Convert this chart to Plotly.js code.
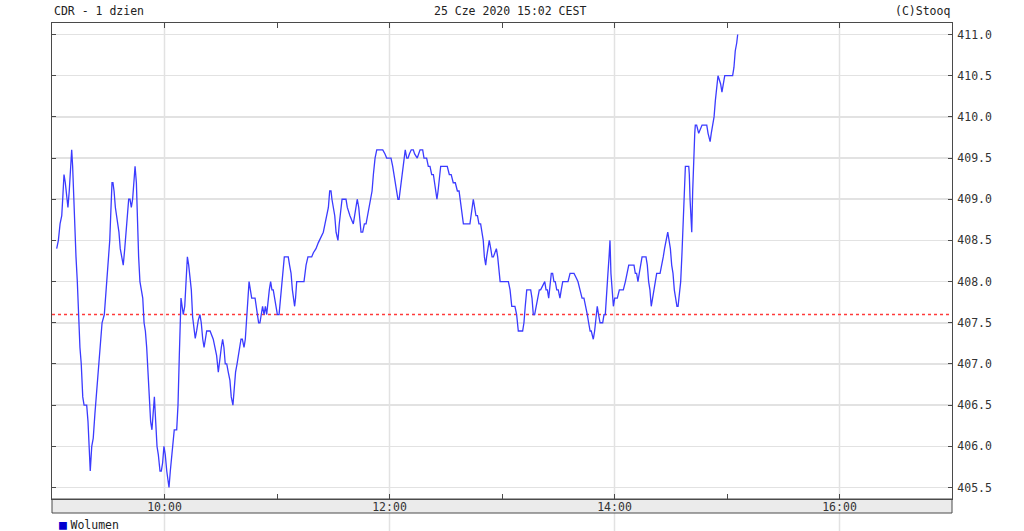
<!DOCTYPE html>
<html>
<head>
<meta charset="utf-8">
<script src="https://cdn.plot.ly/plotly-3.0.1.min.js"></script>
<style>
  html, body { margin: 0; padding: 0; background: #ffffff; }
  #chart { width: 1024px; height: 531px; }
</style>
</head>
<body>
<div id="chart"></div>
<script>
// ---- Data (CDR intraday, 25 Jun 2020) ----
// minutes after 09:00
const minutes = [
  2.5,3.4,4.3,5.2,5.7,6.4,7.1,7.8,8.5,9.2,10.0,10.5,11.0,11.6,12.1,12.8,13.5,14.2,14.9,15.6,
  16.4,17.1,18.5,19.2,19.9,20.4,21.2,22.0,22.9,24.2,25.2,26.0,26.7,27.9,28.6,29.3,30.0,30.8,31.3,32.0,
  32.5,33.1,33.8,34.5,35.0,35.7,36.4,37.2,38.0,38.8,39.5,40.2,40.9,41.6,42.3,43.0,43.7,44.3,45.0,45.5,
  46.2,46.9,47.6,48.4,49.1,49.8,50.5,51.2,51.9,52.6,53.3,54.0,54.6,55.3,56.0,56.7,57.6,58.3,59.0,59.7,
  60.4,61.2,61.9,62.4,63.1,63.8,64.5,65.2,66.5,67.2,67.9,68.4,68.8,70.0,70.8,71.5,72.2,72.9,73.6,74.3,
  75.0,75.7,76.4,77.2,78.0,78.9,79.6,80.4,81.1,81.8,82.5,84.3,86.0,86.9,87.8,88.7,89.6,90.3,91.0,91.7,
  92.4,93.2,94.0,94.9,95.6,96.5,97.2,97.9,98.7,99.4,100.1,100.8,101.5,102.4,103.1,103.8,104.5,105.1,105.8,106.5,
  108.3,108.8,109.5,110.2,110.9,111.6,112.3,113.1,113.8,114.5,115.2,115.9,116.6,117.3,118.0,118.8,119.5,120.2,121.1,121.8,
  122.5,123.2,123.9,124.6,126.0,126.7,127.5,128.2,128.9,129.4,129.9,130.5,134.4,135.5,136.5,138.5,139.4,140.8,142.0,143.3,
  144.7,145.6,146.5,147.4,148.1,148.8,149.3,150.1,150.8,151.5,152.5,153.2,154.0,154.7,156.8,157.5,158.9,160.7,161.4,162.1,
  162.8,163.6,164.3,164.8,165.7,166.6,167.5,168.4,169.2,170.0,170.7,171.4,172.3,173.2,176.4,177.6,178.5,179.9,180.8,181.7,
  182.4,183.1,183.8,184.5,185.1,185.6,186.3,187.0,187.7,188.4,189.2,189.9,190.6,191.6,192.7,193.4,194.8,195.6,196.3,197.7,
  198.4,199.8,200.7,201.6,202.5,203.4,204.1,204.8,205.3,205.9,206.6,207.3,210.8,211.9,212.9,214.0,215.1,216.2,217.1,217.6,
  218.3,218.8,219.4,222.9,223.6,224.2,224.7,225.4,226.1,226.9,227.7,228.6,229.3,230.0,230.6,231.3,231.8,232.5,233.2,234.0,
  234.7,235.4,236.3,237.0,237.7,238.4,239.0,243.4,244.3,245.2,246.9,247.8,248.7,251.0,251.7,252.4,253.2,254.6,255.3,256.0,
  256.7,257.4,258.1,258.8,259.9,260.6,261.7,262.8,263.5,264.2,264.9,265.6,266.3,267.0,267.7,268.4,269.2,270.0,270.9,271.6,
  272.4,274.1,275.2,276.3,278.4,279.5,280.5,281.6,282.7,283.7,284.8,285.5,286.2,287.0,287.6,288.7,289.4,290.1,290.8,291.5,
  292.3,293.7,294.4,295.1,295.8,296.5,297.1,297.6,298.1,298.7,299.4,300.1,301.5,302.6,304.7,305.8,306.5,307.6,310.4,311.1,
  311.8,312.5,313.2,314.0,314.7,316.8,317.5,318.2,318.9,319.6,320.4,321.1,321.8,322.5,324.3,325.3,326.0,326.7,327.5,328.4,
  329.1,329.8,330.5,331.2,331.9,332.6,333.3,333.9,334.6,335.3,336.0,336.7,337.4,337.8,339.6,339.9,340.3,340.8,341.2,341.7,
  342.2,342.8,343.1,343.8,344.9,345.6,346.7,348.4,349.2,349.9,350.6,351.0,351.6,352.4,353.1,353.8,354.5,355.2,355.9,356.6,
  357.3,358.0,358.8,359.5,363.0,363.7,364.4,365.2,365.7
];
const prices = [
  408.4,408.5,408.7,408.8,409.0,409.3,409.2,409.0,408.9,409.1,409.5,409.6,409.4,409.0,408.6,408.3,408.0,407.5,407.2,407.0,
  406.6,406.5,406.5,406.3,406.0,405.7,406.0,406.1,406.4,406.8,407.0,407.3,407.5,407.6,407.8,408.0,408.2,408.5,408.8,409.2,
  409.2,409.1,408.9,408.8,408.7,408.6,408.4,408.3,408.2,408.4,408.6,408.9,409.0,409.0,408.9,409.0,409.2,409.4,409.2,408.7,
  408.3,408.0,407.9,407.8,407.5,407.4,407.2,406.9,406.5,406.3,406.2,406.5,406.6,406.3,406.0,405.9,405.7,405.7,405.8,406.0,
  405.9,405.7,405.6,405.5,405.7,405.9,406.0,406.2,406.2,406.5,407.1,407.6,407.8,407.6,407.7,408.0,408.3,408.2,408.06,407.9,
  407.57,407.41,407.31,407.41,407.53,407.6,407.5,407.3,407.2,407.3,407.4,407.4,407.3,407.2,407.1,406.9,407.1,407.2,407.3,407.2,
  407.0,407.0,406.9,406.8,406.6,406.5,406.7,406.9,407.0,407.1,407.2,407.3,407.3,407.2,407.3,407.6,407.9,408.0,407.9,407.8,
  407.8,407.7,407.6,407.5,407.5,407.6,407.7,407.6,407.7,407.6,407.8,407.9,408.0,407.9,407.9,407.8,407.7,407.6,407.6,407.8,
  407.9,408.1,408.3,408.3,408.3,408.2,408.1,407.9,407.8,407.7,407.8,408.0,408.0,408.2,408.3,408.3,408.35,408.4,408.47,408.53,
  408.6,408.7,408.8,408.9,409.1,409.1,409.0,408.9,408.8,408.6,408.5,408.7,408.9,409.0,409.0,408.9,408.8,408.7,408.8,408.9,
  409.0,408.9,408.7,408.6,408.6,408.7,408.7,408.8,408.9,409.0,409.1,409.3,409.5,409.6,409.6,409.55,409.5,409.5,409.5,409.4,
  409.3,409.2,409.1,409.0,409.0,409.1,409.2,409.3,409.5,409.6,409.5,409.5,409.55,409.6,409.6,409.55,409.5,409.55,409.6,409.6,
  409.5,409.5,409.4,409.4,409.3,409.3,409.2,409.1,409.0,409.1,409.3,409.4,409.4,409.3,409.3,409.2,409.2,409.1,409.1,409.0,
  408.9,408.8,408.7,408.7,408.8,408.9,409.0,408.9,408.8,408.8,408.7,408.7,408.6,408.5,408.3,408.2,408.3,408.4,408.5,408.4,
  408.3,408.3,408.35,408.4,408.3,408.1,408.0,408.0,407.9,407.7,407.7,407.6,407.4,407.4,407.5,407.7,407.9,407.9,407.9,407.8,
  407.6,407.6,407.7,407.8,407.9,407.9,407.95,408.0,407.9,407.9,407.8,408.0,408.1,408.1,408.0,408.0,407.9,407.9,407.8,407.9,
  408.0,408.0,408.0,408.1,408.1,408.05,408.0,407.9,407.8,407.8,407.7,407.6,407.5,407.4,407.4,407.3,407.4,407.6,407.7,407.6,
  407.5,407.5,407.6,407.6,407.8,408.1,408.3,408.5,408.1,407.9,407.7,407.8,407.8,407.9,407.9,408.0,408.1,408.2,408.2,408.1,
  408.1,408.0,408.1,408.2,408.3,408.3,408.2,408.0,407.9,407.7,407.8,407.9,408.0,408.1,408.1,408.2,408.3,408.4,408.5,408.6,
  408.5,408.4,408.2,408.1,407.9,407.8,407.7,407.7,407.9,408.0,408.35,408.8,409.2,409.4,409.4,409.3,409.0,408.8,408.6,409.1,
  409.6,409.8,409.9,409.9,409.8,409.85,409.9,409.9,409.9,409.8,409.7,409.7,409.8,409.9,410.0,410.2,410.4,410.5,410.45,410.4,
  410.3,410.4,410.5,410.5,410.5,410.6,410.8,410.9,411.0
];
const prevClose = 407.6;
const yTicks = [405.5, 406.0, 406.5, 407.0, 407.5, 408.0, 408.5, 409.0, 409.5, 410.0, 410.5, 411.0];
const hourMarks = ['09:00','10:00','11:00','12:00','13:00','14:00','15:00','16:00','17:00'];
const hourTickText = ['', '10:00', '', '12:00', '', '14:00', '', '16:00', ''];
const gridHours = ['10:00', '12:00', '14:00', '16:00'];
const sessionDay = '2020-06-25';
const titleLeft = 'CDR - 1 dzien';
const titleCenter = '25 Cze 2020 15:02 CEST';
const titleRight = '(C)Stooq';
const volumeLabel = 'Wolumen';

// ---- Build ----
function pad(n) { return (n < 10 ? '0' : '') + n; }
function stamp(m) {
  const s = Math.round(m * 60);
  const h = 9 + Math.floor(s / 3600);
  const mm = Math.floor((s % 3600) / 60);
  const ss = s % 60;
  return sessionDay + ' ' + pad(h) + ':' + pad(mm) + ':' + pad(ss);
}
const xs = minutes.map(stamp);
const hourVals = hourMarks.map(h => sessionDay + ' ' + h);
const gridVals = gridHours.map(h => sessionDay + ' ' + h);
const xRange = [sessionDay + ' 09:00', sessionDay + ' 17:00'];

const H = 531;
const FONT = 'DejaVu Sans Mono, Liberation Mono, monospace';
const AX = '#4a4a4a';
const GRID = '#e2e2e2';

const traces = [{
  type: 'scatter', mode: 'lines', x: xs, y: prices,
  xaxis: 'x', yaxis: 'y',
  line: { color: '#3b3bff', width: 1.3 },
  hoverinfo: 'x+y'
}];

// vertical grid lines at even hours (price + volume panels), then the time band on top
const shapes = gridVals.map(v => ({
  type: 'line', xref: 'x', yref: 'paper', x0: v, x1: v, y0: 0, y1: (H - 23) / H,
  line: { color: GRID, width: 1.5 }, layer: 'below'
}));
shapes.push({ type: 'rect', xref: 'paper', yref: 'paper', x0: 0, x1: 1,
  y0: (H - 513) / H, y1: (H - 499) / H,
  fillcolor: '#ebebeb', line: { color: AX, width: 1 }, layer: 'below' });
shapes.push({ type: 'line', xref: 'paper', yref: 'y', x0: 0, x1: 1, y0: prevClose, y1: prevClose,
  line: { color: '#ff3b3b', width: 1.5, dash: '3px,3px' }, layer: 'between' });

const layout = {
  width: 1024, height: H,
  margin: { l: 52, r: 72, t: 0, b: 0, pad: 0 },
  paper_bgcolor: '#ffffff', plot_bgcolor: 'rgba(0,0,0,0)',
  showlegend: false,
  font: { family: FONT, size: 11.5, color: '#333333' },
  xaxis: {
    type: 'date', range: xRange, domain: [0, 1], anchor: 'y',
    tickmode: 'array', tickvals: hourVals, ticktext: hourTickText,
    ticks: 'inside', ticklen: 5, tickwidth: 1, tickcolor: AX,
    ticklabelstandoff: -3,
    showgrid: false,
    showline: true, linecolor: AX, linewidth: 1, mirror: 'ticks',
    tickfont: { family: FONT, size: 11.5, color: '#333333' },
    zeroline: false, fixedrange: true
  },
  yaxis: {
    domain: [(H - 499) / H, (H - 23) / H], range: [405.36, 411.14],
    side: 'right', tickmode: 'array', tickvals: yTicks, tickformat: '.1f',
    ticks: 'inside', ticklen: 4, tickcolor: AX,
    ticklabelstandoff: 2,
    showgrid: true, gridcolor: GRID, gridwidth: 1.5,
    showline: true, linecolor: AX, linewidth: 1, mirror: 'ticks',
    tickfont: { family: FONT, size: 11.5, color: '#333333' },
    zeroline: false, fixedrange: true
  },
  xaxis2: {
    type: 'date', range: xRange, domain: [0, 1], anchor: 'y2', side: 'top',
    tickmode: 'array', tickvals: hourVals, showticklabels: false,
    ticks: 'inside', ticklen: 5, tickcolor: AX,
    showgrid: false,
    showline: false, zeroline: false, fixedrange: true
  },
  yaxis2: {
    domain: [0, (H - 513) / H], range: [0, 1], anchor: 'x2',
    showticklabels: false, ticks: '', showgrid: false,
    showline: true, linecolor: AX, linewidth: 1, mirror: true,
    zeroline: false, fixedrange: true
  },
  shapes: shapes,
  annotations: [
    { xref: 'paper', yref: 'paper', x: 0, y: (H - 11) / H, xanchor: 'left', yanchor: 'middle',
      text: titleLeft, showarrow: false, font: { family: FONT, size: 11.5, color: '#222' } },
    { xref: 'paper', yref: 'paper', x: (510 - 52) / 900, y: (H - 11) / H, xanchor: 'center', yanchor: 'middle',
      text: titleCenter, showarrow: false, font: { family: FONT, size: 11.5, color: '#222' } },
    { xref: 'paper', yref: 'paper', x: (57 - 52) / 900, y: (H - 524) / H, xanchor: 'left', yanchor: 'middle',
      text: '<span style="color:#0000d0;font-size:13px">■</span><span style="font-size:6px"> </span>' + volumeLabel,
      showarrow: false, font: { family: FONT, size: 11.5, color: '#222' } },
    { xref: 'paper', yref: 'paper', x: 1, y: (H - 11) / H, xanchor: 'right', yanchor: 'middle',
      text: titleRight, showarrow: false, font: { family: FONT, size: 11.5, color: '#222' } }
  ]
};

Plotly.newPlot('chart', traces, layout, { staticPlot: true, displayModeBar: false });
</script>
</body>
</html>
